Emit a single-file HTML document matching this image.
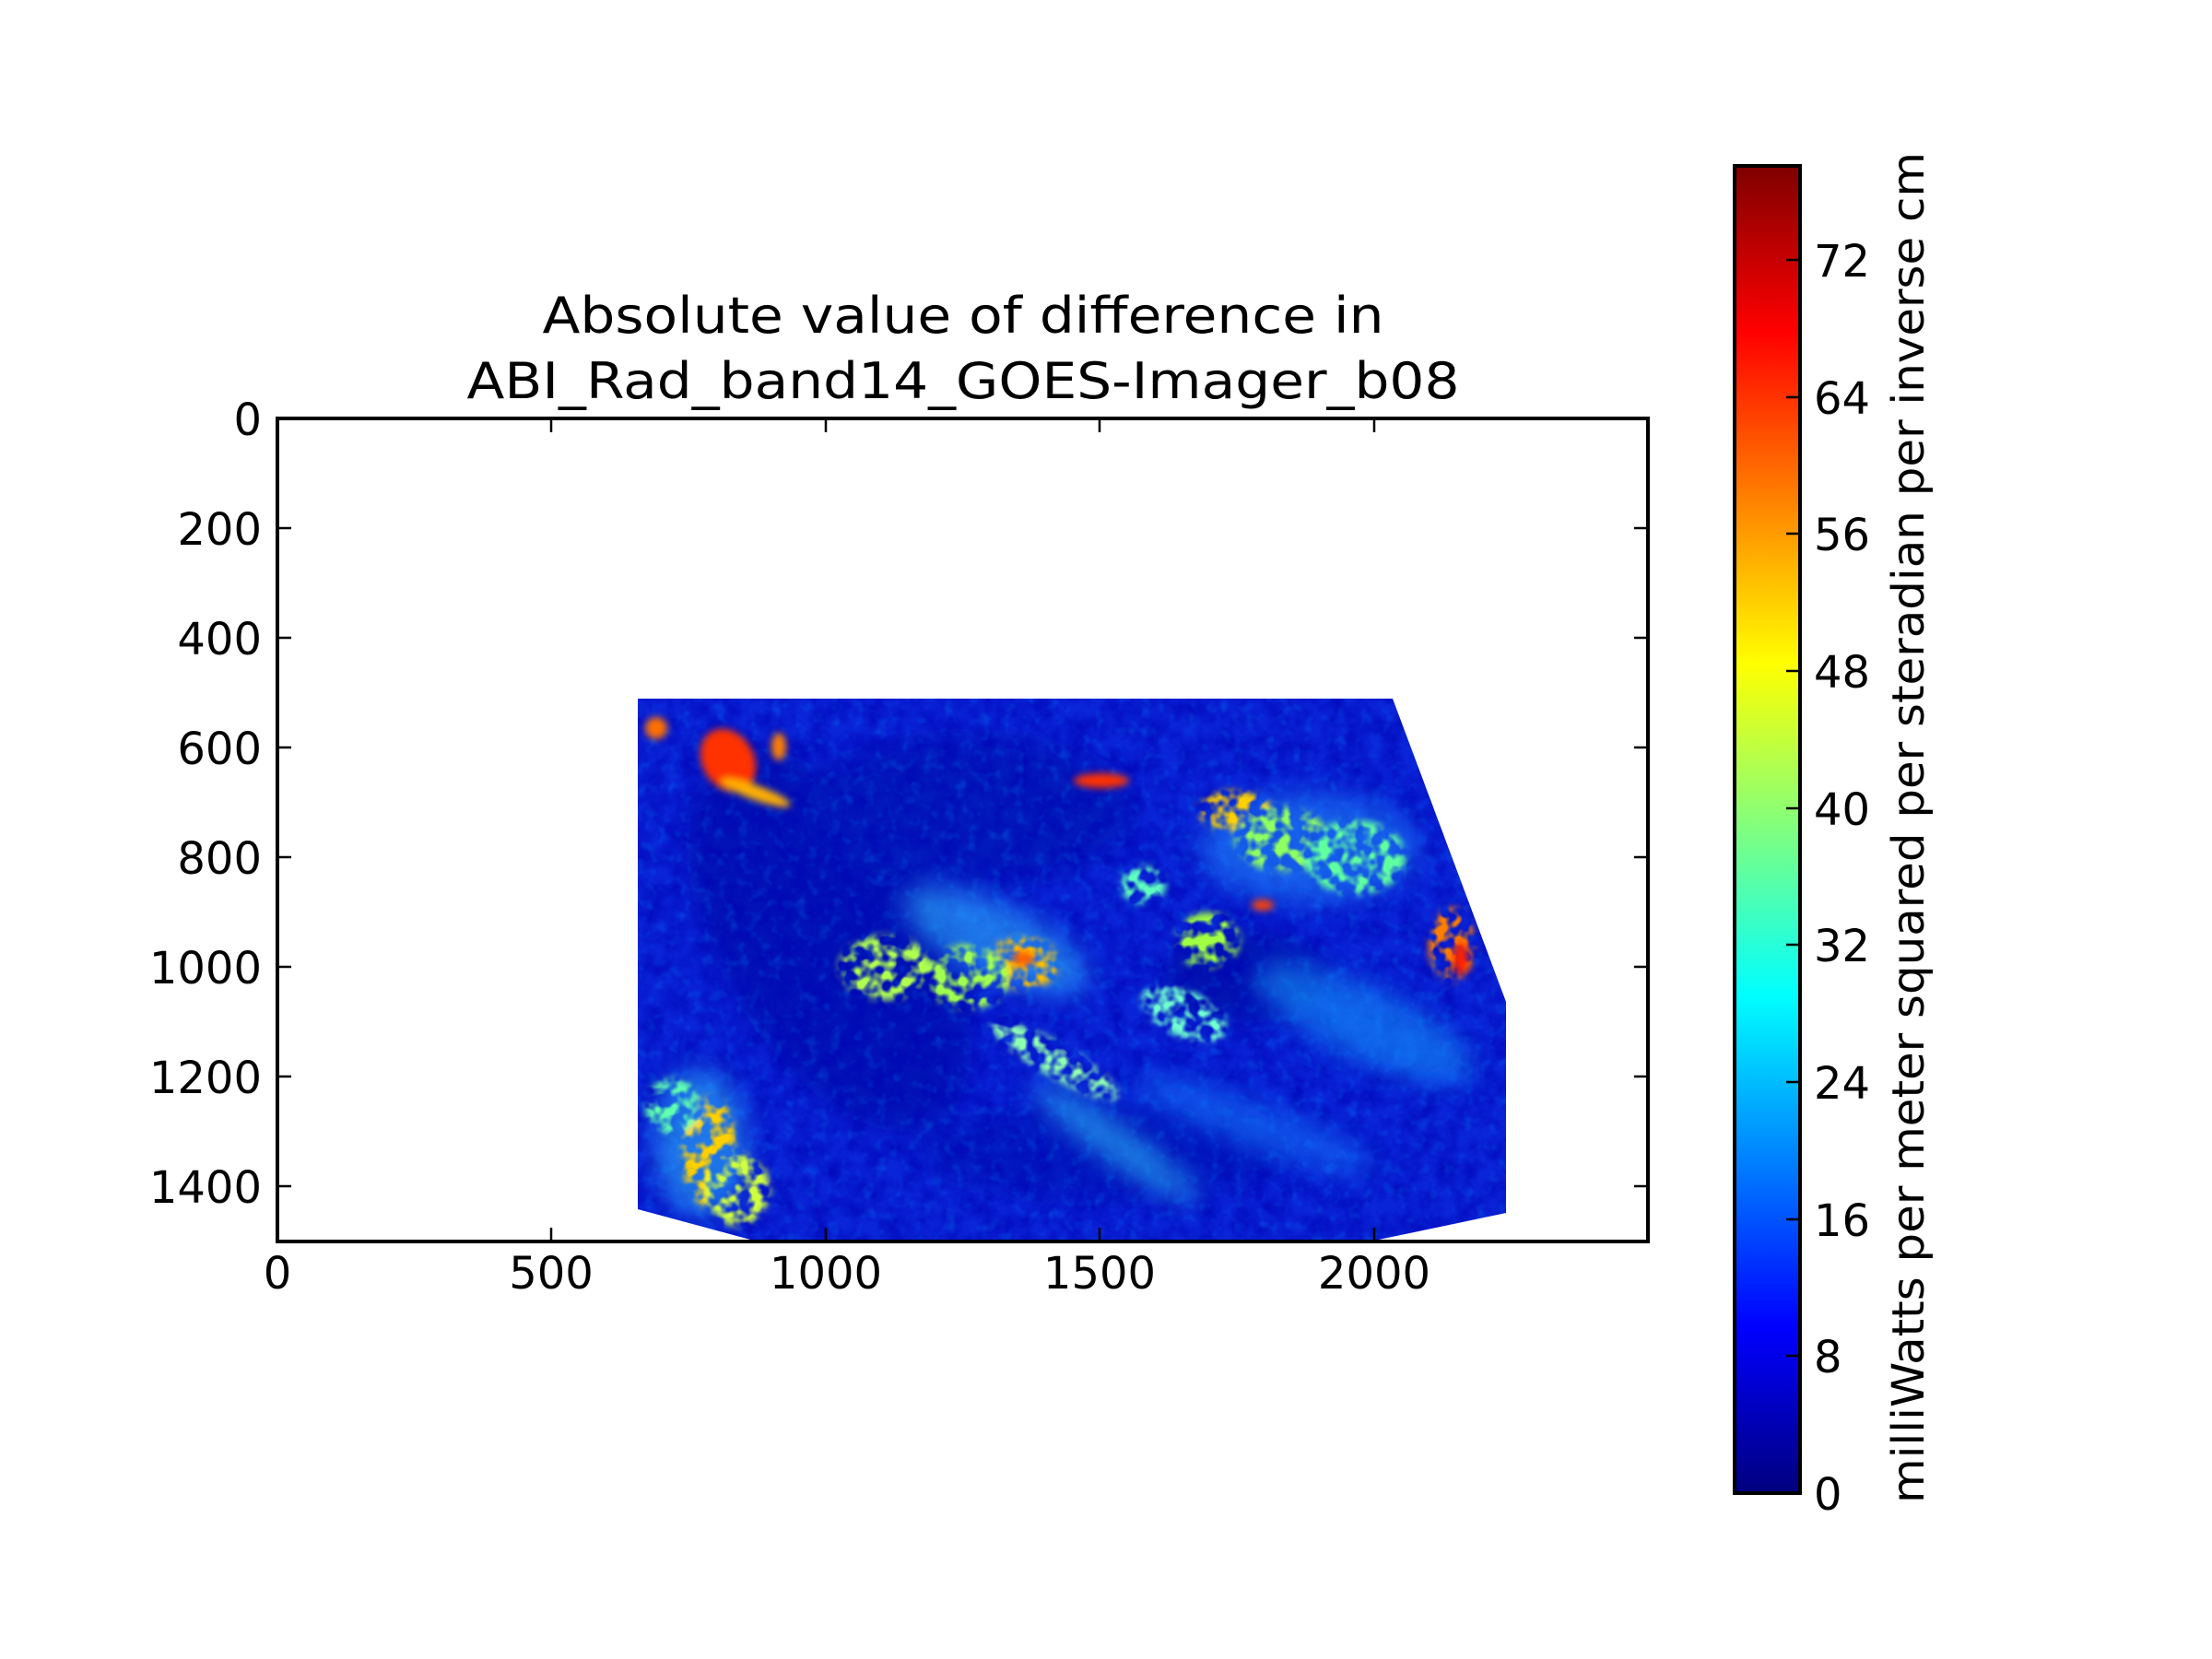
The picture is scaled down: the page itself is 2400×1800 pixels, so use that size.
<!DOCTYPE html>
<html><head><meta charset="utf-8"><style>html,body{margin:0;padding:0;background:#fff}svg{display:block}</style></head>
<body>
<svg width="2400" height="1800" viewBox="0 0 2400 1800" xmlns="http://www.w3.org/2000/svg" font-family="DejaVu Sans, Liberation Sans, sans-serif">
<defs>
<linearGradient id="jet" x1="0" y1="1" x2="0" y2="0">
<stop offset="0" stop-color="#00007f"/><stop offset="0.125" stop-color="#0000ff"/><stop offset="0.375" stop-color="#00ffff"/><stop offset="0.625" stop-color="#ffff00"/><stop offset="0.875" stop-color="#ff0000"/><stop offset="1" stop-color="#7f0000"/>
</linearGradient>
<clipPath id="cp"><polygon points="692,758 1511,758 1634,1087 1634,1316 1491,1346 818,1346 692,1312"/></clipPath>
<filter id="b1" x="-50%" y="-50%" width="200%" height="200%"><feGaussianBlur stdDeviation="4"/></filter>
<filter id="b2" x="-50%" y="-50%" width="200%" height="200%"><feGaussianBlur stdDeviation="14"/></filter>
<filter id="tex"><feTurbulence type="fractalNoise" baseFrequency="0.05" numOctaves="3" seed="4"/><feColorMatrix values="0 0 0 0 0  0 0 0 0 0  0 0 0 0 0.45  0 0 0 1.2 -0.35"/></filter>
<filter id="tex2"><feTurbulence type="fractalNoise" baseFrequency="0.08" numOctaves="2" seed="9"/><feColorMatrix values="0 0 0 0 0  0 0 0 0 0.3  0 0 0 0 1  0 0 0 2.2 -1.15"/></filter>
<filter id="mf"><feTurbulence type="fractalNoise" baseFrequency="0.07" numOctaves="2" seed="2"/><feColorMatrix values="0 0 0 0 1  0 0 0 0 1  0 0 0 0 1  4 0 0 0 -1.6"/></filter>
<mask id="m"><rect x="680" y="750" width="970" height="610" fill="#000"/><rect x="680" y="750" width="970" height="610" filter="url(#mf)"/></mask>
</defs>
<text x="1045" y="361" font-size="54" text-anchor="middle" textLength="913" lengthAdjust="spacingAndGlyphs">Absolute value of difference in</text>
<text x="1045" y="432" font-size="54" text-anchor="middle" textLength="1077" lengthAdjust="spacingAndGlyphs">ABI_Rad_band14_GOES-Imager_b08</text>
<g clip-path="url(#cp)">
<rect x="680" y="750" width="970" height="610" fill="#0a24d8"/>
<g filter="url(#b2)" opacity="0.7">
<ellipse cx="900" cy="1020" rx="120" ry="230" fill="#0010a8" transform="rotate(-30 900 1020)"/>
<ellipse cx="1050" cy="880" rx="180" ry="80" fill="#0012b0"/>
<ellipse cx="1350" cy="1060" rx="90" ry="50" fill="#0010a0"/>
<ellipse cx="1200" cy="1250" rx="200" ry="50" fill="#0016b8"/>
</g>
<rect x="680" y="750" width="970" height="610" filter="url(#tex)"/>
<rect x="680" y="750" width="970" height="610" filter="url(#tex2)" opacity="0.3"/>
<g filter="url(#b2)" opacity="0.55">
<ellipse cx="1480" cy="1110" rx="130" ry="40" fill="#18a0ff" transform="rotate(25 1480 1110)"/>
<ellipse cx="1210" cy="1240" rx="110" ry="20" fill="#30d0ff" transform="rotate(35 1210 1240)"/>
<ellipse cx="1360" cy="1220" rx="140" ry="25" fill="#1480ff" transform="rotate(20 1360 1220)"/>
<ellipse cx="1420" cy="920" rx="120" ry="60" fill="#2090ff"/>
<ellipse cx="760" cy="1240" rx="50" ry="80" fill="#30c0ff"/>
<ellipse cx="1080" cy="1020" rx="110" ry="40" fill="#30c0ff" transform="rotate(25 1080 1020)"/>
</g>
<g filter="url(#b1)" mask="url(#m)">
<ellipse cx="1340" cy="880" rx="40" ry="22" fill="#ffd000"/>
<ellipse cx="1390" cy="910" rx="50" ry="35" fill="#90ff60"/>
<ellipse cx="1470" cy="930" rx="55" ry="40" fill="#60ffa0"/>
<ellipse cx="1575" cy="1025" rx="25" ry="40" fill="#ff8000"/>
<ellipse cx="1110" cy="1045" rx="40" ry="28" fill="#ffc000"/>
<ellipse cx="1050" cy="1060" rx="45" ry="35" fill="#a0ff50"/>
<ellipse cx="960" cy="1050" rx="50" ry="35" fill="#b0ff50"/>
<ellipse cx="1145" cy="1150" rx="80" ry="18" fill="#90ffb0" transform="rotate(30 1145 1150)"/>
<ellipse cx="1285" cy="1100" rx="50" ry="25" fill="#70ffd0" transform="rotate(25 1285 1100)"/>
<ellipse cx="770" cy="1250" rx="30" ry="60" fill="#ffd000"/>
<ellipse cx="800" cy="1290" rx="35" ry="40" fill="#d0ff40"/>
<ellipse cx="730" cy="1200" rx="30" ry="30" fill="#60ffb0"/>
<ellipse cx="1310" cy="1020" rx="35" ry="30" fill="#a0ff40"/>
<ellipse cx="1240" cy="960" rx="25" ry="20" fill="#60ffc0"/>
</g>
<g filter="url(#b1)">
<ellipse cx="790" cy="825" rx="28" ry="36" fill="#ff3000" transform="rotate(-30 790 825)"/>
<ellipse cx="820" cy="860" rx="40" ry="8" fill="#ffb000" transform="rotate(20 820 860)"/>
<ellipse cx="712" cy="790" rx="12" ry="12" fill="#ff7000"/>
<ellipse cx="845" cy="810" rx="8" ry="15" fill="#ff8000"/>
<ellipse cx="1195" cy="847" rx="30" ry="8" fill="#ff3000"/>
<ellipse cx="1585" cy="1040" rx="8" ry="18" fill="#ff2000"/>
<ellipse cx="1110" cy="1040" rx="12" ry="8" fill="#ff6000"/>
<ellipse cx="1370" cy="982" rx="12" ry="6" fill="#ff4000"/>
</g>
</g>
<g stroke="#000" stroke-width="4" fill="none">
<rect x="301" y="454" width="1487" height="893"/>
</g>
<g stroke="#000" stroke-width="2.5">
<path d="M598,1347v-15M896,1347v-15M1193,1347v-15M1491,1347v-15M598,454v15M896,454v15M1193,454v15M1491,454v15"/>
<path d="M301,573h15M301,692h15M301,811h15M301,930h15M301,1049h15M301,1168h15M301,1287h15M1788,573h-15M1788,692h-15M1788,811h-15M1788,930h-15M1788,1049h-15M1788,1168h-15M1788,1287h-15"/>
</g>
<g font-size="48" text-anchor="middle">
<text x="301" y="1398">0</text><text x="598" y="1398">500</text><text x="896" y="1398">1000</text><text x="1193" y="1398">1500</text><text x="1491" y="1398">2000</text>
</g>
<g font-size="48" text-anchor="end">
<text x="284" y="472">0</text><text x="284" y="591">200</text><text x="284" y="710">400</text><text x="284" y="829">600</text><text x="284" y="948">800</text><text x="284" y="1067">1000</text><text x="284" y="1186">1200</text><text x="284" y="1305">1400</text>
</g>
<rect x="1882" y="180" width="71" height="1440" fill="url(#jet)" stroke="#000" stroke-width="4"/>
<g stroke="#000" stroke-width="2.5">
<path d="M1953,1471h-15M1953,1323h-15M1953,1174h-15M1953,1025h-15M1953,877h-15M1953,728h-15M1953,579h-15M1953,431h-15M1953,282h-15"/>
</g>
<g font-size="48">
<text x="1968" y="1638">0</text><text x="1968" y="1489">8</text><text x="1968" y="1341">16</text><text x="1968" y="1192">24</text><text x="1968" y="1043">32</text><text x="1968" y="895">40</text><text x="1968" y="746">48</text><text x="1968" y="597">56</text><text x="1968" y="449">64</text><text x="1968" y="300">72</text>
</g>
<text transform="translate(2087,898) rotate(-90)" font-size="48" text-anchor="middle" textLength="1466" lengthAdjust="spacingAndGlyphs">milliWatts per meter squared per steradian per inverse cm</text>
</svg>
</body></html>
